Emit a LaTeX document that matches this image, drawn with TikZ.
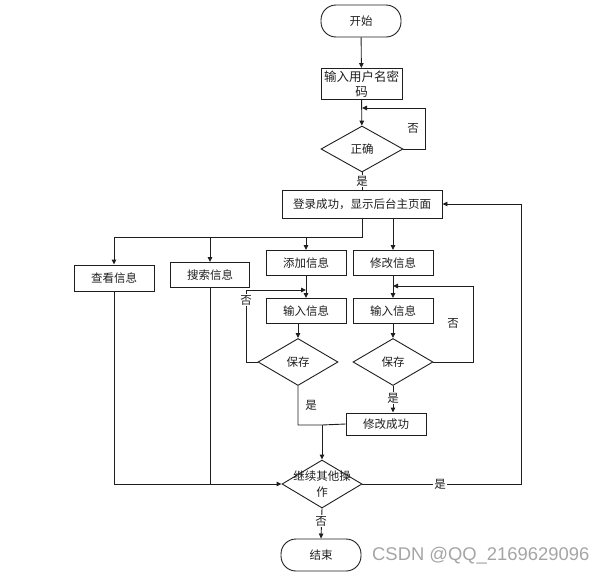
\documentclass[tikz,border=0pt]{standalone}
\usepackage{fontspec}
\setmainfont{Liberation Serif}
\newfontfamily\cjk{Noto Sans CJK SC}
\newfontfamily\wm{Liberation Sans}
\usetikzlibrary{shapes.geometric,arrows.meta}
\definecolor{wmgray}{RGB}{165,165,165}
\definecolor{ln}{RGB}{30,30,30}
\begin{document}
\begin{tikzpicture}[x=1pt,y=-1pt,
  every node/.style={font=\cjk\fontsize{11.5}{13}\selectfont, text=ln},
  box/.style={draw=ln, line width=0.9pt, rectangle, inner sep=0pt, minimum width=80pt, minimum height=25pt, anchor=center},
  term/.style={draw=ln, line width=0.9pt, rectangle, rounded corners=15pt, inner sep=0pt, minimum width=80pt, minimum height=32pt},
  dia/.style={draw=ln, line width=0.9pt, diamond, inner sep=0pt, minimum width=80pt, minimum height=47pt},
  conn/.style={draw=ln, line width=0.9pt},
  arr/.style={conn, -{Triangle[length=5pt,width=4.5pt]}},
  lab/.style={fill=white, inner sep=1pt}
]
\useasboundingbox (0,0) rectangle (605,576);

\node[term] (start) at (361,21) {开始};
\node[box, minimum width=81pt, minimum height=31pt, align=center, font=\cjk\fontsize{12.5}{15}\selectfont] (inp) at (361.5,84) {输入用户名密\\码};
\node[dia, minimum width=82pt, minimum height=46pt] (ok) at (362,149) {正确};
\node[box, minimum width=160pt, minimum height=28pt] (login) at (362,204) {登录成功，显示后台主页面};
\node[box, minimum height=26pt] (view) at (114,278) {查看信息};
\node[box, minimum width=79pt] (search) at (210,275) {搜索信息};
\node[box] (add) at (306,263) {添加信息};
\node[box] (mod) at (393,263) {修改信息};
\node[box] (inL) at (306,311) {输入信息};
\node[box] (inR) at (393,311) {输入信息};
\node[dia] (saveL) at (298,362) {保存};
\node[dia] (saveR) at (393,362) {保存};
\node[box, minimum height=22pt] (modok) at (386,424) {修改成功};
\node[dia, minimum height=48pt] (cont) at (322,484) {};
\node[align=center, font=\cjk\fontsize{11.5}{16}\selectfont] (contt) at (322,484) {继续其他操\\作};
\node[term] (end) at (321,555) {结束};

\coordinate (okl) at (425,108);
\coordinate (bj) at (362,237);
\coordinate (lL) at (246,290);
\coordinate (lR) at (473,286);
\coordinate (mj) at (322,425);
\coordinate (bl) at (114,484);
\coordinate (br) at (521,484);

% top
\draw[arr] (start) -- (inp);
\draw[arr] (inp) -- (ok);
\draw[arr] (ok.east) -| (okl) -- (okl -| ok.north);
\node[lab] at (413,128) {否};
\draw[conn] (ok.south) -- (login.north);
\node[lab] at (362,181) {是};

% branches
\draw[arr] (login.south) -- (bj) -| (view.north);
\draw[arr] (bj -| search.north) -- (search.north);
\draw[arr] (bj -| add.north) -- (add.north);
\draw[arr] (login.south -| mod.north) -- (mod.north);

% left add column
\draw[arr] (add) -- (inL);
\draw[arr] (inL.south -| saveL.north) -- (saveL.north);
\draw[arr] (saveL.west) -| (lL) -- (lL -| add.south) ;
\node[lab] at (246,300) {否};
\draw[conn] (saveL.south) |- (mj) -- (modok.west);
\node[lab] at (311,405) {是};
\draw[arr] (mj) -- (cont.north);

% right modify column
\draw[arr] (mod) -- (inR);
\draw[arr] (inR) -- (saveR);
\draw[arr] (saveR.east) -| (lR) -- (lR -| mod.south);
\node[lab] at (453,323) {否};
\draw[arr] (saveR.south) -- (saveR.south |- modok.north);
\node[lab] at (393,398) {是};

% bottom
\draw[arr] (view.south) |- (cont.west);
\draw[conn] (search.south) -- (search.south |- bl);
\draw[arr] (cont.east) -- (br) |- (login.east);
\node[lab] at (440,484) {是};
\draw[arr] (cont.south) -- (end.north);
\node[lab] at (321,521) {否};

\node[font=\wm\fontsize{18.4}{18}\selectfont, text=wmgray, anchor=west, inner sep=0pt] (wmk) at (372,556) {CSDN @QQ\_2169629096};
\end{tikzpicture}
\end{document}
